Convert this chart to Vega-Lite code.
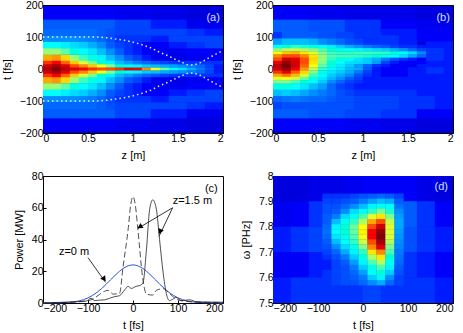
{"$schema":"https://vega.github.io/schema/vega-lite/v6.json","padding":{"left":0,"top":-1,"right":10,"bottom":0},"columns":2,"spacing":{"row":43,"column":50},"bounds":"flush","config":{"font":"Liberation Sans","view":{"stroke":"black"},"axisX":{"titlePadding":6},"axisY":{"titlePadding":7},"axis":{"grid":false,"labelFontSize":10.5,"titleFontSize":11,"titleFontWeight":"normal","tickSize":-3,"labelPadding":3,"domain":false,"labelColor":"black","titleColor":"black","tickColor":"black","format":"~r"}},
"datasets":{
"aFar":[{"x":0.2,"y":135,"v":17},{"x":0.2,"y":175,"v":12},{"x":0.2,"y":-135,"v":17},{"x":0.2,"y":-175,"v":12},{"x":0.6,"y":135,"v":17},{"x":0.6,"y":175,"v":12},{"x":0.6,"y":-135,"v":17},{"x":0.6,"y":-175,"v":12},{"x":1,"y":135,"v":15},{"x":1,"y":175,"v":11},{"x":1,"y":-135,"v":15},{"x":1,"y":-175,"v":11},{"x":1.4,"y":135,"v":13},{"x":1.4,"y":175,"v":10},{"x":1.4,"y":-135,"v":13},{"x":1.4,"y":-175,"v":10},{"x":1.8,"y":135,"v":11},{"x":1.8,"y":175,"v":9},{"x":1.8,"y":-135,"v":11},{"x":1.8,"y":-175,"v":9}],
"aCoarse":[{"x":1.3,"y":35,"v":11},{"x":1.3,"y":55,"v":11},{"x":1.3,"y":75,"v":12},{"x":1.3,"y":95,"v":13},{"x":1.3,"y":115,"v":15},{"x":1.3,"y":-35,"v":11},{"x":1.3,"y":-55,"v":11},{"x":1.3,"y":-75,"v":12},{"x":1.3,"y":-95,"v":13},{"x":1.3,"y":-115,"v":15},{"x":1.5,"y":35,"v":10},{"x":1.5,"y":55,"v":11},{"x":1.5,"y":75,"v":13},{"x":1.5,"y":95,"v":15},{"x":1.5,"y":115,"v":15},{"x":1.5,"y":-35,"v":10},{"x":1.5,"y":-55,"v":11},{"x":1.5,"y":-75,"v":13},{"x":1.5,"y":-95,"v":15},{"x":1.5,"y":-115,"v":15},{"x":1.7,"y":35,"v":11},{"x":1.7,"y":55,"v":12},{"x":1.7,"y":75,"v":14},{"x":1.7,"y":95,"v":15},{"x":1.7,"y":115,"v":14},{"x":1.7,"y":-35,"v":11},{"x":1.7,"y":-55,"v":12},{"x":1.7,"y":-75,"v":14},{"x":1.7,"y":-95,"v":15},{"x":1.7,"y":-115,"v":14},{"x":1.9,"y":35,"v":12},{"x":1.9,"y":55,"v":12},{"x":1.9,"y":75,"v":15},{"x":1.9,"y":95,"v":15},{"x":1.9,"y":115,"v":13},{"x":1.9,"y":-35,"v":12},{"x":1.9,"y":-55,"v":12},{"x":1.9,"y":-75,"v":15},{"x":1.9,"y":-95,"v":15},{"x":1.9,"y":-115,"v":13}],
"aMid":[{"x":0.05,"y":35,"v":74},{"x":0.05,"y":55,"v":54},{"x":0.05,"y":75,"v":38},{"x":0.05,"y":95,"v":22},{"x":0.05,"y":115,"v":18},{"x":0.05,"y":-35,"v":74},{"x":0.05,"y":-55,"v":54},{"x":0.05,"y":-75,"v":38},{"x":0.05,"y":-95,"v":22},{"x":0.05,"y":-115,"v":18},{"x":0.15,"y":35,"v":76},{"x":0.15,"y":55,"v":54},{"x":0.15,"y":75,"v":38},{"x":0.15,"y":95,"v":22},{"x":0.15,"y":115,"v":18},{"x":0.15,"y":-35,"v":76},{"x":0.15,"y":-55,"v":54},{"x":0.15,"y":-75,"v":38},{"x":0.15,"y":-95,"v":22},{"x":0.15,"y":-115,"v":18},{"x":0.25,"y":35,"v":68},{"x":0.25,"y":55,"v":49},{"x":0.25,"y":75,"v":35},{"x":0.25,"y":95,"v":22},{"x":0.25,"y":115,"v":18},{"x":0.25,"y":-35,"v":68},{"x":0.25,"y":-55,"v":49},{"x":0.25,"y":-75,"v":35},{"x":0.25,"y":-95,"v":22},{"x":0.25,"y":-115,"v":18},{"x":0.35,"y":35,"v":54},{"x":0.35,"y":55,"v":42},{"x":0.35,"y":75,"v":32},{"x":0.35,"y":95,"v":22},{"x":0.35,"y":115,"v":18},{"x":0.35,"y":-35,"v":54},{"x":0.35,"y":-55,"v":42},{"x":0.35,"y":-75,"v":32},{"x":0.35,"y":-95,"v":22},{"x":0.35,"y":-115,"v":18},{"x":0.45,"y":35,"v":47},{"x":0.45,"y":55,"v":38},{"x":0.45,"y":75,"v":30},{"x":0.45,"y":95,"v":21},{"x":0.45,"y":115,"v":18},{"x":0.45,"y":-35,"v":47},{"x":0.45,"y":-55,"v":38},{"x":0.45,"y":-75,"v":30},{"x":0.45,"y":-95,"v":21},{"x":0.45,"y":-115,"v":18},{"x":0.55,"y":35,"v":42},{"x":0.55,"y":55,"v":34},{"x":0.55,"y":75,"v":26},{"x":0.55,"y":95,"v":20},{"x":0.55,"y":115,"v":18},{"x":0.55,"y":-35,"v":42},{"x":0.55,"y":-55,"v":34},{"x":0.55,"y":-75,"v":26},{"x":0.55,"y":-95,"v":20},{"x":0.55,"y":-115,"v":18},{"x":0.65,"y":35,"v":36},{"x":0.65,"y":55,"v":28},{"x":0.65,"y":75,"v":22},{"x":0.65,"y":95,"v":18},{"x":0.65,"y":115,"v":17},{"x":0.65,"y":-35,"v":36},{"x":0.65,"y":-55,"v":28},{"x":0.65,"y":-75,"v":22},{"x":0.65,"y":-95,"v":18},{"x":0.65,"y":-115,"v":17},{"x":0.75,"y":35,"v":28},{"x":0.75,"y":55,"v":22},{"x":0.75,"y":75,"v":17},{"x":0.75,"y":95,"v":16},{"x":0.75,"y":115,"v":16},{"x":0.75,"y":-35,"v":28},{"x":0.75,"y":-55,"v":22},{"x":0.75,"y":-75,"v":17},{"x":0.75,"y":-95,"v":16},{"x":0.75,"y":-115,"v":16},{"x":0.85,"y":35,"v":22},{"x":0.85,"y":55,"v":17},{"x":0.85,"y":75,"v":15},{"x":0.85,"y":95,"v":14},{"x":0.85,"y":115,"v":15},{"x":0.85,"y":-35,"v":22},{"x":0.85,"y":-55,"v":17},{"x":0.85,"y":-75,"v":15},{"x":0.85,"y":-95,"v":14},{"x":0.85,"y":-115,"v":15},{"x":0.95,"y":35,"v":17},{"x":0.95,"y":55,"v":14},{"x":0.95,"y":75,"v":14},{"x":0.95,"y":95,"v":14},{"x":0.95,"y":115,"v":15},{"x":0.95,"y":-35,"v":17},{"x":0.95,"y":-55,"v":14},{"x":0.95,"y":-75,"v":14},{"x":0.95,"y":-95,"v":14},{"x":0.95,"y":-115,"v":15},{"x":1.05,"y":35,"v":15},{"x":1.05,"y":55,"v":13},{"x":1.05,"y":75,"v":13},{"x":1.05,"y":95,"v":14},{"x":1.05,"y":115,"v":15},{"x":1.05,"y":-35,"v":15},{"x":1.05,"y":-55,"v":13},{"x":1.05,"y":-75,"v":13},{"x":1.05,"y":-95,"v":14},{"x":1.05,"y":-115,"v":15},{"x":1.15,"y":35,"v":13},{"x":1.15,"y":55,"v":12},{"x":1.15,"y":75,"v":12},{"x":1.15,"y":95,"v":14},{"x":1.15,"y":115,"v":15},{"x":1.15,"y":-35,"v":13},{"x":1.15,"y":-55,"v":12},{"x":1.15,"y":-75,"v":12},{"x":1.15,"y":-95,"v":14},{"x":1.15,"y":-115,"v":15}],
"aFine":[{"x":0.05,"y":0,"v":95},{"x":0.05,"y":10,"v":92},{"x":0.05,"y":-10,"v":92},{"x":0.05,"y":20,"v":86},{"x":0.05,"y":-20,"v":86},{"x":0.15,"y":0,"v":100},{"x":0.15,"y":10,"v":96},{"x":0.15,"y":-10,"v":96},{"x":0.15,"y":20,"v":88},{"x":0.15,"y":-20,"v":88},{"x":0.25,"y":0,"v":94},{"x":0.25,"y":10,"v":90},{"x":0.25,"y":-10,"v":90},{"x":0.25,"y":20,"v":82},{"x":0.25,"y":-20,"v":82},{"x":0.35,"y":0,"v":90},{"x":0.35,"y":10,"v":84},{"x":0.35,"y":-10,"v":84},{"x":0.35,"y":20,"v":70},{"x":0.35,"y":-20,"v":70},{"x":0.45,"y":0,"v":88},{"x":0.45,"y":10,"v":78},{"x":0.45,"y":-10,"v":78},{"x":0.45,"y":20,"v":60},{"x":0.45,"y":-20,"v":60},{"x":0.55,"y":0,"v":86},{"x":0.55,"y":10,"v":70},{"x":0.55,"y":-10,"v":70},{"x":0.55,"y":20,"v":52},{"x":0.55,"y":-20,"v":52},{"x":0.65,"y":0,"v":84},{"x":0.65,"y":10,"v":62},{"x":0.65,"y":-10,"v":62},{"x":0.65,"y":20,"v":44},{"x":0.65,"y":-20,"v":44},{"x":0.75,"y":0,"v":84},{"x":0.75,"y":10,"v":52},{"x":0.75,"y":-10,"v":52},{"x":0.75,"y":20,"v":36},{"x":0.75,"y":-20,"v":36},{"x":0.85,"y":0,"v":86},{"x":0.85,"y":10,"v":44},{"x":0.85,"y":-10,"v":44},{"x":0.85,"y":20,"v":28},{"x":0.85,"y":-20,"v":28},{"x":0.95,"y":0,"v":90},{"x":0.95,"y":10,"v":40},{"x":0.95,"y":-10,"v":40},{"x":0.95,"y":20,"v":24},{"x":0.95,"y":-20,"v":24},{"x":1.05,"y":0,"v":88},{"x":1.05,"y":10,"v":36},{"x":1.05,"y":-10,"v":36},{"x":1.05,"y":20,"v":20},{"x":1.05,"y":-20,"v":20},{"x":1.15,"y":0,"v":78},{"x":1.15,"y":10,"v":30},{"x":1.15,"y":-10,"v":30},{"x":1.15,"y":20,"v":18},{"x":1.15,"y":-20,"v":18},{"x":1.25,"y":0,"v":62},{"x":1.25,"y":10,"v":28},{"x":1.25,"y":-10,"v":28},{"x":1.25,"y":20,"v":16},{"x":1.25,"y":-20,"v":16},{"x":1.35,"y":0,"v":50},{"x":1.35,"y":10,"v":26},{"x":1.35,"y":-10,"v":26},{"x":1.35,"y":20,"v":15},{"x":1.35,"y":-20,"v":15},{"x":1.45,"y":0,"v":40},{"x":1.45,"y":10,"v":24},{"x":1.45,"y":-10,"v":24},{"x":1.45,"y":20,"v":14},{"x":1.45,"y":-20,"v":14},{"x":1.55,"y":0,"v":33},{"x":1.55,"y":10,"v":22},{"x":1.55,"y":-10,"v":22},{"x":1.55,"y":20,"v":14},{"x":1.55,"y":-20,"v":14},{"x":1.65,"y":0,"v":26},{"x":1.65,"y":10,"v":20},{"x":1.65,"y":-10,"v":20},{"x":1.65,"y":20,"v":14},{"x":1.65,"y":-20,"v":14},{"x":1.75,"y":0,"v":20},{"x":1.75,"y":10,"v":18},{"x":1.75,"y":-10,"v":18},{"x":1.75,"y":20,"v":14},{"x":1.75,"y":-20,"v":14},{"x":1.85,"y":0,"v":16},{"x":1.85,"y":10,"v":15},{"x":1.85,"y":-10,"v":15},{"x":1.85,"y":20,"v":14},{"x":1.85,"y":-20,"v":14},{"x":1.95,"y":0,"v":13},{"x":1.95,"y":10,"v":13},{"x":1.95,"y":-10,"v":13},{"x":1.95,"y":20,"v":14},{"x":1.95,"y":-20,"v":14}],
"aDots":[{"x":0,"y":100,"s":"u"},{"x":0.6,"y":100,"s":"u"},{"x":0.7,"y":98,"s":"u"},{"x":0.8,"y":94,"s":"u"},{"x":0.9,"y":90,"s":"u"},{"x":1,"y":84,"s":"u"},{"x":1.1,"y":76,"s":"u"},{"x":1.2,"y":66,"s":"u"},{"x":1.3,"y":52,"s":"u"},{"x":1.4,"y":40,"s":"u"},{"x":1.5,"y":26,"s":"u"},{"x":1.6,"y":14,"s":"u"},{"x":1.67,"y":12,"s":"u"},{"x":1.75,"y":20,"s":"u"},{"x":1.85,"y":36,"s":"u"},{"x":2,"y":58,"s":"u"},{"x":0,"y":-100,"s":"l"},{"x":0.6,"y":-100,"s":"l"},{"x":0.7,"y":-98,"s":"l"},{"x":0.8,"y":-94,"s":"l"},{"x":0.9,"y":-90,"s":"l"},{"x":1,"y":-84,"s":"l"},{"x":1.1,"y":-76,"s":"l"},{"x":1.2,"y":-66,"s":"l"},{"x":1.3,"y":-52,"s":"l"},{"x":1.4,"y":-40,"s":"l"},{"x":1.5,"y":-26,"s":"l"},{"x":1.6,"y":-14,"s":"l"},{"x":1.67,"y":-12,"s":"l"},{"x":1.75,"y":-20,"s":"l"},{"x":1.85,"y":-36,"s":"l"},{"x":2,"y":-58,"s":"l"}],
"bFar":[{"x":0.2,"y":135,"v":17},{"x":0.2,"y":175,"v":12},{"x":0.2,"y":-135,"v":17},{"x":0.2,"y":-175,"v":12},{"x":0.6,"y":135,"v":16},{"x":0.6,"y":175,"v":11},{"x":0.6,"y":-135,"v":16},{"x":0.6,"y":-175,"v":12},{"x":1,"y":135,"v":14},{"x":1,"y":175,"v":10},{"x":1,"y":-135,"v":15},{"x":1,"y":-175,"v":11},{"x":1.4,"y":135,"v":12},{"x":1.4,"y":175,"v":10},{"x":1.4,"y":-135,"v":14},{"x":1.4,"y":-175,"v":10},{"x":1.8,"y":135,"v":11},{"x":1.8,"y":175,"v":9},{"x":1.8,"y":-135,"v":12},{"x":1.8,"y":-175,"v":9}],
"bCoarse":[{"x":1.3,"y":115,"v":13},{"x":1.3,"y":95,"v":14},{"x":1.3,"y":-55,"v":13},{"x":1.3,"y":-75,"v":14},{"x":1.3,"y":-95,"v":15},{"x":1.3,"y":-115,"v":15},{"x":1.5,"y":115,"v":13},{"x":1.5,"y":95,"v":13},{"x":1.5,"y":-55,"v":13},{"x":1.5,"y":-75,"v":14},{"x":1.5,"y":-95,"v":14},{"x":1.5,"y":-115,"v":14},{"x":1.7,"y":115,"v":12},{"x":1.7,"y":95,"v":12},{"x":1.7,"y":-55,"v":13},{"x":1.7,"y":-75,"v":13},{"x":1.7,"y":-95,"v":14},{"x":1.7,"y":-115,"v":14},{"x":1.9,"y":115,"v":12},{"x":1.9,"y":95,"v":12},{"x":1.9,"y":-55,"v":13},{"x":1.9,"y":-75,"v":13},{"x":1.9,"y":-95,"v":13},{"x":1.9,"y":-115,"v":13},{"x":1.8,"y":75,"v":13},{"x":1.8,"y":55,"v":14},{"x":1.8,"y":35,"v":14},{"x":1.8,"y":15,"v":13},{"x":1.8,"y":-5,"v":14},{"x":1.8,"y":-25,"v":13},{"x":2,"y":75,"v":13},{"x":2,"y":55,"v":13},{"x":2,"y":35,"v":13},{"x":2,"y":15,"v":13},{"x":2,"y":-5,"v":13},{"x":2,"y":-25,"v":13},{"x":1.3,"y":85,"v":14},{"x":1.5,"y":85,"v":13},{"x":1.8,"y":-45,"v":13},{"x":2,"y":-45,"v":13}],
"bMid":[{"x":0.05,"y":105,"v":14},{"x":0.05,"y":85,"v":24},{"x":0.05,"y":-55,"v":42},{"x":0.05,"y":-75,"v":28},{"x":0.05,"y":-95,"v":18},{"x":0.05,"y":-115,"v":15},{"x":0.15,"y":105,"v":17},{"x":0.15,"y":85,"v":28},{"x":0.15,"y":-55,"v":42},{"x":0.15,"y":-75,"v":30},{"x":0.15,"y":-95,"v":19},{"x":0.15,"y":-115,"v":16},{"x":0.25,"y":105,"v":17},{"x":0.25,"y":85,"v":28},{"x":0.25,"y":-55,"v":38},{"x":0.25,"y":-75,"v":28},{"x":0.25,"y":-95,"v":20},{"x":0.25,"y":-115,"v":16},{"x":0.35,"y":105,"v":17},{"x":0.35,"y":85,"v":28},{"x":0.35,"y":-55,"v":34},{"x":0.35,"y":-75,"v":25},{"x":0.35,"y":-95,"v":19},{"x":0.35,"y":-115,"v":16},{"x":0.45,"y":105,"v":17},{"x":0.45,"y":85,"v":26},{"x":0.45,"y":-55,"v":28},{"x":0.45,"y":-75,"v":22},{"x":0.45,"y":-95,"v":18},{"x":0.45,"y":-115,"v":16},{"x":0.55,"y":105,"v":16},{"x":0.55,"y":85,"v":22},{"x":0.55,"y":-55,"v":24},{"x":0.55,"y":-75,"v":20},{"x":0.55,"y":-95,"v":18},{"x":0.55,"y":-115,"v":16},{"x":0.65,"y":105,"v":16},{"x":0.65,"y":85,"v":20},{"x":0.65,"y":-55,"v":18},{"x":0.65,"y":-75,"v":18},{"x":0.65,"y":-95,"v":17},{"x":0.65,"y":-115,"v":16},{"x":0.75,"y":105,"v":15},{"x":0.75,"y":85,"v":18},{"x":0.75,"y":-55,"v":15},{"x":0.75,"y":-75,"v":16},{"x":0.75,"y":-95,"v":16},{"x":0.75,"y":-115,"v":16},{"x":0.85,"y":105,"v":15},{"x":0.85,"y":85,"v":16},{"x":0.85,"y":-55,"v":14},{"x":0.85,"y":-75,"v":15},{"x":0.85,"y":-95,"v":16},{"x":0.85,"y":-115,"v":16},{"x":0.95,"y":105,"v":14},{"x":0.95,"y":85,"v":15},{"x":0.95,"y":-55,"v":13},{"x":0.95,"y":-75,"v":14},{"x":0.95,"y":-95,"v":15},{"x":0.95,"y":-115,"v":15},{"x":1.05,"y":105,"v":14},{"x":1.05,"y":85,"v":14},{"x":1.05,"y":-55,"v":13},{"x":1.05,"y":-75,"v":14},{"x":1.05,"y":-95,"v":15},{"x":1.05,"y":-115,"v":15},{"x":1.15,"y":105,"v":14},{"x":1.15,"y":85,"v":14},{"x":1.15,"y":-55,"v":13},{"x":1.15,"y":-75,"v":14},{"x":1.15,"y":-95,"v":15},{"x":1.15,"y":-115,"v":15}],
"bFine":[{"x":0.05,"y":70,"v":40},{"x":0.05,"y":60,"v":52},{"x":0.05,"y":50,"v":63},{"x":0.05,"y":40,"v":78},{"x":0.05,"y":30,"v":84},{"x":0.05,"y":20,"v":90},{"x":0.05,"y":10,"v":94},{"x":0.05,"y":0,"v":92},{"x":0.05,"y":-10,"v":86},{"x":0.05,"y":-20,"v":74},{"x":0.05,"y":-30,"v":60},{"x":0.05,"y":-40,"v":52},{"x":0.15,"y":70,"v":44},{"x":0.15,"y":60,"v":56},{"x":0.15,"y":50,"v":70},{"x":0.15,"y":40,"v":84},{"x":0.15,"y":30,"v":92},{"x":0.15,"y":20,"v":98},{"x":0.15,"y":10,"v":100},{"x":0.15,"y":0,"v":98},{"x":0.15,"y":-10,"v":90},{"x":0.15,"y":-20,"v":80},{"x":0.15,"y":-30,"v":62},{"x":0.15,"y":-40,"v":52},{"x":0.25,"y":70,"v":46},{"x":0.25,"y":60,"v":57},{"x":0.25,"y":50,"v":72},{"x":0.25,"y":40,"v":84},{"x":0.25,"y":30,"v":90},{"x":0.25,"y":20,"v":92},{"x":0.25,"y":10,"v":92},{"x":0.25,"y":0,"v":88},{"x":0.25,"y":-10,"v":82},{"x":0.25,"y":-20,"v":72},{"x":0.25,"y":-30,"v":58},{"x":0.25,"y":-40,"v":48},{"x":0.35,"y":70,"v":45},{"x":0.35,"y":60,"v":55},{"x":0.35,"y":50,"v":66},{"x":0.35,"y":40,"v":78},{"x":0.35,"y":30,"v":84},{"x":0.35,"y":20,"v":84},{"x":0.35,"y":10,"v":82},{"x":0.35,"y":0,"v":76},{"x":0.35,"y":-10,"v":68},{"x":0.35,"y":-20,"v":60},{"x":0.35,"y":-30,"v":50},{"x":0.35,"y":-40,"v":44},{"x":0.45,"y":70,"v":43},{"x":0.45,"y":60,"v":52},{"x":0.45,"y":50,"v":60},{"x":0.45,"y":40,"v":66},{"x":0.45,"y":30,"v":68},{"x":0.45,"y":20,"v":66},{"x":0.45,"y":10,"v":62},{"x":0.45,"y":0,"v":58},{"x":0.45,"y":-10,"v":52},{"x":0.45,"y":-20,"v":47},{"x":0.45,"y":-30,"v":42},{"x":0.45,"y":-40,"v":38},{"x":0.55,"y":70,"v":39},{"x":0.55,"y":60,"v":48},{"x":0.55,"y":50,"v":52},{"x":0.55,"y":40,"v":54},{"x":0.55,"y":30,"v":54},{"x":0.55,"y":20,"v":52},{"x":0.55,"y":10,"v":50},{"x":0.55,"y":0,"v":46},{"x":0.55,"y":-10,"v":42},{"x":0.55,"y":-20,"v":38},{"x":0.55,"y":-30,"v":34},{"x":0.55,"y":-40,"v":30},{"x":0.65,"y":70,"v":35},{"x":0.65,"y":60,"v":44},{"x":0.65,"y":50,"v":47},{"x":0.65,"y":40,"v":48},{"x":0.65,"y":30,"v":46},{"x":0.65,"y":20,"v":44},{"x":0.65,"y":10,"v":42},{"x":0.65,"y":0,"v":38},{"x":0.65,"y":-10,"v":34},{"x":0.65,"y":-20,"v":30},{"x":0.65,"y":-30,"v":27},{"x":0.65,"y":-40,"v":22},{"x":0.75,"y":70,"v":30},{"x":0.75,"y":60,"v":41},{"x":0.75,"y":50,"v":46},{"x":0.75,"y":40,"v":47},{"x":0.75,"y":30,"v":42},{"x":0.75,"y":20,"v":38},{"x":0.75,"y":10,"v":35},{"x":0.75,"y":0,"v":34},{"x":0.75,"y":-10,"v":30},{"x":0.75,"y":-20,"v":26},{"x":0.75,"y":-30,"v":22},{"x":0.75,"y":-40,"v":18},{"x":0.85,"y":70,"v":26},{"x":0.85,"y":60,"v":38},{"x":0.85,"y":50,"v":46},{"x":0.85,"y":40,"v":47},{"x":0.85,"y":30,"v":40},{"x":0.85,"y":20,"v":33},{"x":0.85,"y":10,"v":30},{"x":0.85,"y":0,"v":28},{"x":0.85,"y":-10,"v":26},{"x":0.85,"y":-20,"v":22},{"x":0.85,"y":-30,"v":17},{"x":0.85,"y":-40,"v":15},{"x":0.95,"y":70,"v":23},{"x":0.95,"y":60,"v":36},{"x":0.95,"y":50,"v":47},{"x":0.95,"y":40,"v":46},{"x":0.95,"y":30,"v":34},{"x":0.95,"y":20,"v":32},{"x":0.95,"y":10,"v":24},{"x":0.95,"y":0,"v":26},{"x":0.95,"y":-10,"v":20},{"x":0.95,"y":-20,"v":16},{"x":0.95,"y":-30,"v":15},{"x":0.95,"y":-40,"v":14},{"x":1.05,"y":70,"v":20},{"x":1.05,"y":60,"v":34},{"x":1.05,"y":50,"v":47},{"x":1.05,"y":40,"v":45},{"x":1.05,"y":30,"v":30},{"x":1.05,"y":20,"v":30},{"x":1.05,"y":10,"v":18},{"x":1.05,"y":0,"v":17},{"x":1.05,"y":-10,"v":15},{"x":1.05,"y":-20,"v":14},{"x":1.05,"y":-30,"v":13},{"x":1.05,"y":-40,"v":13},{"x":1.15,"y":70,"v":18},{"x":1.15,"y":60,"v":32},{"x":1.15,"y":50,"v":46},{"x":1.15,"y":40,"v":44},{"x":1.15,"y":30,"v":26},{"x":1.15,"y":20,"v":24},{"x":1.15,"y":10,"v":14},{"x":1.15,"y":0,"v":13},{"x":1.15,"y":-10,"v":13},{"x":1.15,"y":-20,"v":13},{"x":1.15,"y":-30,"v":13},{"x":1.15,"y":-40,"v":13},{"x":1.25,"y":70,"v":17},{"x":1.25,"y":60,"v":30},{"x":1.25,"y":50,"v":46},{"x":1.25,"y":40,"v":42},{"x":1.25,"y":30,"v":20},{"x":1.25,"y":20,"v":15},{"x":1.25,"y":10,"v":13},{"x":1.25,"y":0,"v":12},{"x":1.25,"y":-10,"v":12},{"x":1.25,"y":-20,"v":12},{"x":1.25,"y":-30,"v":13},{"x":1.25,"y":-40,"v":13},{"x":1.35,"y":70,"v":15},{"x":1.35,"y":60,"v":26},{"x":1.35,"y":50,"v":44},{"x":1.35,"y":40,"v":38},{"x":1.35,"y":30,"v":16},{"x":1.35,"y":20,"v":13},{"x":1.35,"y":10,"v":12},{"x":1.35,"y":0,"v":12},{"x":1.35,"y":-10,"v":12},{"x":1.35,"y":-20,"v":12},{"x":1.35,"y":-30,"v":13},{"x":1.35,"y":-40,"v":13},{"x":1.45,"y":70,"v":14},{"x":1.45,"y":60,"v":22},{"x":1.45,"y":50,"v":40},{"x":1.45,"y":40,"v":32},{"x":1.45,"y":30,"v":14},{"x":1.45,"y":20,"v":12},{"x":1.45,"y":10,"v":12},{"x":1.45,"y":0,"v":12},{"x":1.45,"y":-10,"v":12},{"x":1.45,"y":-20,"v":12},{"x":1.45,"y":-30,"v":13},{"x":1.45,"y":-40,"v":13},{"x":1.55,"y":70,"v":14},{"x":1.55,"y":60,"v":18},{"x":1.55,"y":50,"v":32},{"x":1.55,"y":40,"v":25},{"x":1.55,"y":30,"v":13},{"x":1.55,"y":20,"v":12},{"x":1.55,"y":10,"v":12},{"x":1.55,"y":0,"v":13},{"x":1.55,"y":-10,"v":13},{"x":1.55,"y":-20,"v":13},{"x":1.55,"y":-30,"v":13},{"x":1.55,"y":-40,"v":13},{"x":1.65,"y":70,"v":13},{"x":1.65,"y":60,"v":15},{"x":1.65,"y":50,"v":22},{"x":1.65,"y":40,"v":18},{"x":1.65,"y":30,"v":12},{"x":1.65,"y":20,"v":12},{"x":1.65,"y":10,"v":13},{"x":1.65,"y":0,"v":13},{"x":1.65,"y":-10,"v":13},{"x":1.65,"y":-20,"v":13},{"x":1.65,"y":-30,"v":13},{"x":1.65,"y":-40,"v":13}],
"dFar":[{"x":-180,"y":7.95,"v":9},{"x":-180,"y":7.85,"v":11},{"x":-180,"y":7.75,"v":13},{"x":-180,"y":7.65,"v":12},{"x":-180,"y":7.55,"v":13},{"x":-140,"y":7.95,"v":9},{"x":-140,"y":7.85,"v":12},{"x":-140,"y":7.75,"v":14},{"x":-140,"y":7.65,"v":12},{"x":-140,"y":7.55,"v":14},{"x":-100,"y":7.95,"v":10},{"x":-100,"y":7.85,"v":14},{"x":-100,"y":7.75,"v":15},{"x":-100,"y":7.65,"v":13},{"x":-100,"y":7.55,"v":14},{"x":100,"y":7.95,"v":12},{"x":100,"y":7.85,"v":17},{"x":100,"y":7.75,"v":16},{"x":100,"y":7.65,"v":14},{"x":100,"y":7.55,"v":14},{"x":140,"y":7.95,"v":10},{"x":140,"y":7.85,"v":14},{"x":140,"y":7.75,"v":14},{"x":140,"y":7.65,"v":13},{"x":140,"y":7.55,"v":14},{"x":180,"y":7.95,"v":9},{"x":180,"y":7.85,"v":12},{"x":180,"y":7.75,"v":13},{"x":180,"y":7.65,"v":12},{"x":180,"y":7.55,"v":13},{"x":-60,"y":7.97,"v":10},{"x":-20,"y":7.97,"v":11},{"x":20,"y":7.97,"v":12},{"x":60,"y":7.97,"v":12},{"x":-60,"y":7.53,"v":14},{"x":-20,"y":7.53,"v":14},{"x":20,"y":7.53,"v":15},{"x":60,"y":7.53,"v":14}],
"dFine":[{"x":-80,"y":7.92,"v":14},{"x":-60,"y":7.92,"v":14},{"x":-40,"y":7.92,"v":14},{"x":-20,"y":7.92,"v":15},{"x":0,"y":7.92,"v":16},{"x":20,"y":7.92,"v":17},{"x":40,"y":7.92,"v":18},{"x":60,"y":7.92,"v":17},{"x":80,"y":7.92,"v":15},{"x":-80,"y":7.9,"v":15},{"x":-60,"y":7.9,"v":15},{"x":-40,"y":7.9,"v":16},{"x":-20,"y":7.9,"v":17},{"x":0,"y":7.9,"v":20},{"x":20,"y":7.9,"v":24},{"x":40,"y":7.9,"v":28},{"x":60,"y":7.9,"v":26},{"x":80,"y":7.9,"v":17},{"x":-80,"y":7.88,"v":16},{"x":-60,"y":7.88,"v":16},{"x":-40,"y":7.88,"v":18},{"x":-20,"y":7.88,"v":22},{"x":0,"y":7.88,"v":28},{"x":20,"y":7.88,"v":36},{"x":40,"y":7.88,"v":40},{"x":60,"y":7.88,"v":38},{"x":80,"y":7.88,"v":19},{"x":-80,"y":7.86,"v":16},{"x":-60,"y":7.86,"v":17},{"x":-40,"y":7.86,"v":22},{"x":-20,"y":7.86,"v":32},{"x":0,"y":7.86,"v":40},{"x":20,"y":7.86,"v":46},{"x":40,"y":7.86,"v":52},{"x":60,"y":7.86,"v":45},{"x":80,"y":7.86,"v":22},{"x":-80,"y":7.84,"v":17},{"x":-60,"y":7.84,"v":20},{"x":-40,"y":7.84,"v":32},{"x":-20,"y":7.84,"v":40},{"x":0,"y":7.84,"v":48},{"x":20,"y":7.84,"v":60},{"x":40,"y":7.84,"v":66},{"x":60,"y":7.84,"v":52},{"x":80,"y":7.84,"v":24},{"x":-80,"y":7.82,"v":17},{"x":-60,"y":7.82,"v":28},{"x":-40,"y":7.82,"v":40},{"x":-20,"y":7.82,"v":46},{"x":0,"y":7.82,"v":56},{"x":20,"y":7.82,"v":74},{"x":40,"y":7.82,"v":84},{"x":60,"y":7.82,"v":58},{"x":80,"y":7.82,"v":25},{"x":-80,"y":7.8,"v":18},{"x":-60,"y":7.8,"v":36},{"x":-40,"y":7.8,"v":44},{"x":-20,"y":7.8,"v":50},{"x":0,"y":7.8,"v":62},{"x":20,"y":7.8,"v":84},{"x":40,"y":7.8,"v":92},{"x":60,"y":7.8,"v":60},{"x":80,"y":7.8,"v":25},{"x":-80,"y":7.78,"v":19},{"x":-60,"y":7.78,"v":38},{"x":-40,"y":7.78,"v":44},{"x":-20,"y":7.78,"v":50},{"x":0,"y":7.78,"v":64},{"x":20,"y":7.78,"v":88},{"x":40,"y":7.78,"v":98},{"x":60,"y":7.78,"v":60},{"x":80,"y":7.78,"v":24},{"x":-80,"y":7.76,"v":18},{"x":-60,"y":7.76,"v":34},{"x":-40,"y":7.76,"v":42},{"x":-20,"y":7.76,"v":48},{"x":0,"y":7.76,"v":62},{"x":20,"y":7.76,"v":88},{"x":40,"y":7.76,"v":100},{"x":60,"y":7.76,"v":60},{"x":80,"y":7.76,"v":23},{"x":-80,"y":7.74,"v":17},{"x":-60,"y":7.74,"v":28},{"x":-40,"y":7.74,"v":38},{"x":-20,"y":7.74,"v":46},{"x":0,"y":7.74,"v":58},{"x":20,"y":7.74,"v":84},{"x":40,"y":7.74,"v":96},{"x":60,"y":7.74,"v":56},{"x":80,"y":7.74,"v":22},{"x":-80,"y":7.72,"v":16},{"x":-60,"y":7.72,"v":22},{"x":-40,"y":7.72,"v":32},{"x":-20,"y":7.72,"v":42},{"x":0,"y":7.72,"v":52},{"x":20,"y":7.72,"v":78},{"x":40,"y":7.72,"v":90},{"x":60,"y":7.72,"v":52},{"x":80,"y":7.72,"v":21},{"x":-80,"y":7.7,"v":15},{"x":-60,"y":7.7,"v":18},{"x":-40,"y":7.7,"v":26},{"x":-20,"y":7.7,"v":36},{"x":0,"y":7.7,"v":46},{"x":20,"y":7.7,"v":66},{"x":40,"y":7.7,"v":78},{"x":60,"y":7.7,"v":48},{"x":80,"y":7.7,"v":20},{"x":-80,"y":7.68,"v":14},{"x":-60,"y":7.68,"v":16},{"x":-40,"y":7.68,"v":20},{"x":-20,"y":7.68,"v":30},{"x":0,"y":7.68,"v":42},{"x":20,"y":7.68,"v":56},{"x":40,"y":7.68,"v":66},{"x":60,"y":7.68,"v":44},{"x":80,"y":7.68,"v":19},{"x":-80,"y":7.66,"v":13},{"x":-60,"y":7.66,"v":15},{"x":-40,"y":7.66,"v":17},{"x":-20,"y":7.66,"v":24},{"x":0,"y":7.66,"v":36},{"x":20,"y":7.66,"v":48},{"x":40,"y":7.66,"v":56},{"x":60,"y":7.66,"v":40},{"x":80,"y":7.66,"v":18},{"x":-80,"y":7.64,"v":13},{"x":-60,"y":7.64,"v":15},{"x":-40,"y":7.64,"v":16},{"x":-20,"y":7.64,"v":20},{"x":0,"y":7.64,"v":30},{"x":20,"y":7.64,"v":42},{"x":40,"y":7.64,"v":48},{"x":60,"y":7.64,"v":36},{"x":80,"y":7.64,"v":17},{"x":-80,"y":7.62,"v":14},{"x":-60,"y":7.62,"v":15},{"x":-40,"y":7.62,"v":16},{"x":-20,"y":7.62,"v":18},{"x":0,"y":7.62,"v":24},{"x":20,"y":7.62,"v":38},{"x":40,"y":7.62,"v":44},{"x":60,"y":7.62,"v":30},{"x":80,"y":7.62,"v":16},{"x":-80,"y":7.6,"v":14},{"x":-60,"y":7.6,"v":15},{"x":-40,"y":7.6,"v":16},{"x":-20,"y":7.6,"v":17},{"x":0,"y":7.6,"v":20},{"x":20,"y":7.6,"v":30},{"x":40,"y":7.6,"v":36},{"x":60,"y":7.6,"v":22},{"x":80,"y":7.6,"v":15},{"x":-80,"y":7.58,"v":14},{"x":-60,"y":7.58,"v":15},{"x":-40,"y":7.58,"v":16},{"x":-20,"y":7.58,"v":16},{"x":0,"y":7.58,"v":18},{"x":20,"y":7.58,"v":22},{"x":40,"y":7.58,"v":26},{"x":60,"y":7.58,"v":18},{"x":80,"y":7.58,"v":15}],
"cBlue":[{"x":-200,"y":0},{"x":-160,"y":0.15},{"x":-140,"y":0.5},{"x":-120,"y":1.3},{"x":-100,"y":3.2},{"x":-80,"y":6.7},{"x":-60,"y":11.7},{"x":-40,"y":17.4},{"x":-20,"y":22.1},{"x":0,"y":24},{"x":20,"y":22.1},{"x":40,"y":17.4},{"x":60,"y":11.7},{"x":80,"y":6.7},{"x":100,"y":3.2},{"x":120,"y":1.3},{"x":140,"y":0.5},{"x":160,"y":0.15},{"x":200,"y":0}],
"cDash":[{"x":-200,"y":0},{"x":-150,"y":0.3},{"x":-111,"y":1},{"x":-89,"y":2.5},{"x":-74,"y":5.5},{"x":-55,"y":8},{"x":-44,"y":5.6},{"x":-30,"y":6},{"x":-22,"y":23},{"x":-11,"y":46},{"x":-5,"y":62},{"x":0,"y":67},{"x":5,"y":62},{"x":11,"y":46},{"x":21,"y":17},{"x":30,"y":5.6},{"x":44,"y":5},{"x":52,"y":8},{"x":67,"y":9},{"x":81,"y":6},{"x":96,"y":2.5},{"x":118,"y":1},{"x":150,"y":0.5},{"x":200,"y":0.3}],
"cSolid":[{"x":-200,"y":0},{"x":-145,"y":0.6},{"x":-104,"y":1.2},{"x":-93,"y":3},{"x":-85,"y":1.5},{"x":-74,"y":1.8},{"x":-63,"y":2},{"x":-52,"y":3},{"x":-41,"y":4},{"x":-30,"y":4.6},{"x":-18,"y":8.4},{"x":-11,"y":10.5},{"x":-4,"y":9.2},{"x":7,"y":10.5},{"x":15,"y":11},{"x":22,"y":12.5},{"x":30,"y":34},{"x":37,"y":59},{"x":44,"y":65},{"x":52,"y":59},{"x":59,"y":40},{"x":67,"y":19},{"x":74,"y":6},{"x":81,"y":1.5},{"x":89,"y":2.5},{"x":96,"y":3.5},{"x":107,"y":1.5},{"x":126,"y":2},{"x":141,"y":0.8},{"x":165,"y":0.6},{"x":200,"y":0.5}],
"arrow0":[{"x":-100,"y":28.6},{"x":-61,"y":13}],
"arrow1":[{"x":88,"y":60},{"x":11,"y":47}],
"arrow2":[{"x":88,"y":60},{"x":58,"y":42}]
},
"concat":[
{"width":180,"height":128,"view":{"fill":"#0000cc","stroke":"black"},"encoding":{"x":{"field":"x","type":"quantitative","title":"z [m]","scale":{"domain":[0,2],"nice":false},"axis":{"values":[0,0.5,1,1.5,2]}},"y":{"field":"y","type":"quantitative","title":"t [fs]","scale":{"domain":[-200,200],"nice":false},"axis":{"values":[-200,-100,0,100,200]}}},
"layer":[{"encoding":{"color":{"field":"v","type":"quantitative","legend":null,"scale":{"domain":[0,12.5,37.5,62.5,87.5,100],"range":["#00008f","#0000ff","#00ffff","#ffff00","#ff0000","#800000"]}}},"layer":[
{"data":{"name":"aFar"},"mark":{"type":"rect","width":36.5,"height":13,"clip":true}},
{"data":{"name":"aCoarse"},"mark":{"type":"rect","width":18.5,"height":6.8,"clip":true}},
{"data":{"name":"aMid"},"mark":{"type":"rect","width":9.3,"height":6.8,"clip":true}},
{"data":{"name":"aFine"},"mark":{"type":"rect","width":9.3,"height":3.5,"clip":true}}]},
{"data":{"name":"aDots"},"mark":{"type":"line","color":"#dfe8ff","strokeWidth":1.5,"strokeDash":[1.5,3],"clip":true},"encoding":{"detail":{"field":"s"}}},
{"data":{"values":[{"x":1.89,"y":160,"l":"(a)"}]},"mark":{"type":"text","color":"#cfe0ff","fontSize":11},"encoding":{"text":{"field":"l"}}}]},
{"width":180,"height":128,"view":{"fill":"#0000cc","stroke":"black"},"encoding":{"x":{"field":"x","type":"quantitative","title":"z [m]","scale":{"domain":[0,2],"nice":false},"axis":{"values":[0,0.5,1,1.5,2]}},"y":{"field":"y","type":"quantitative","title":"t [fs]","scale":{"domain":[-200,200],"nice":false},"axis":{"values":[-200,-100,0,100,200]}}},
"layer":[{"encoding":{"color":{"field":"v","type":"quantitative","legend":null,"scale":{"domain":[0,12.5,37.5,62.5,87.5,100],"range":["#00008f","#0000ff","#00ffff","#ffff00","#ff0000","#800000"]}}},"layer":[
{"data":{"name":"bFar"},"mark":{"type":"rect","width":36.5,"height":13,"clip":true}},
{"data":{"name":"bCoarse"},"mark":{"type":"rect","width":18.5,"height":6.8,"clip":true}},
{"data":{"name":"bMid"},"mark":{"type":"rect","width":9.3,"height":6.8,"clip":true}},
{"data":{"name":"bFine"},"mark":{"type":"rect","width":9.3,"height":3.5,"clip":true}}]},
{"data":{"values":[{"x":1.89,"y":160,"l":"(b)"}]},"mark":{"type":"text","color":"#cfe0ff","fontSize":11},"encoding":{"text":{"field":"l"}}}]},
{"width":180,"height":127,"view":{"fill":"white","stroke":"black"},"encoding":{"x":{"field":"x","type":"quantitative","title":"t [fs]","scale":{"domain":[-200,200],"nice":false},"axis":{"values":[-200,-100,0,100,200]}},"y":{"field":"y","type":"quantitative","title":"Power [MW]","scale":{"domain":[0,80],"nice":false},"axis":{"values":[0,20,40,60,80]}}},
"layer":[
{"data":{"name":"cBlue"},"mark":{"type":"line","color":"#3050e0","strokeWidth":1,"interpolate":"monotone"}},
{"data":{"name":"cDash"},"mark":{"type":"line","color":"#222222","strokeWidth":0.8,"strokeDash":[6,3],"interpolate":"monotone"}},
{"data":{"name":"cSolid"},"mark":{"type":"line","color":"#222222","strokeWidth":0.8,"interpolate":"monotone"}},
{"data":{"name":"arrow0"},"mark":{"type":"line","color":"black","strokeWidth":0.8}},
{"data":{"name":"arrow1"},"mark":{"type":"line","color":"black","strokeWidth":0.8}},
{"data":{"name":"arrow2"},"mark":{"type":"line","color":"black","strokeWidth":0.8}},
{"data":{"values":[{"x":-64,"y":15}]},"mark":{"type":"point","shape":"triangle-up","filled":true,"color":"black","opacity":1,"size":36,"angle":145}},
{"data":{"values":[{"x":15,"y":48}]},"mark":{"type":"point","shape":"triangle-up","filled":true,"color":"black","opacity":1,"size":36,"angle":239}},
{"data":{"values":[{"x":60,"y":45}]},"mark":{"type":"point","shape":"triangle-up","filled":true,"color":"black","opacity":1,"size":36,"angle":205}},
{"data":{"values":[{"x":132,"y":64,"l":"z=1.5 m"},{"x":-131,"y":32,"l":"z=0 m"},{"x":174,"y":72,"l":"(c)"}]},"mark":{"type":"text","color":"black","fontSize":11},"encoding":{"text":{"field":"l"}}}]},
{"width":180,"height":127,"view":{"fill":"#0000cc","stroke":"black"},"encoding":{"x":{"field":"x","type":"quantitative","title":"t [fs]","scale":{"domain":[-200,200],"nice":false},"axis":{"values":[-200,-100,0,100,200]}},"y":{"field":"y","type":"quantitative","title":"ω [PHz]","scale":{"domain":[7.5,8],"nice":false},"axis":{"values":[7.5,7.6,7.7,7.8,7.9,8]}}},
"layer":[{"encoding":{"color":{"field":"v","type":"quantitative","legend":null,"scale":{"domain":[0,12.5,37.5,62.5,87.5,100],"range":["#00008f","#0000ff","#00ffff","#ffff00","#ff0000","#800000"]}}},"layer":[
{"data":{"name":"dFar"},"mark":{"type":"rect","width":18.3,"height":25.6,"clip":true}},
{"data":{"name":"dFine"},"mark":{"type":"rect","width":9.3,"height":5.4,"clip":true}}]},
{"data":{"values":[{"x":174,"y":7.955,"l":"(d)"}]},"mark":{"type":"text","color":"#cfe0ff","fontSize":11},"encoding":{"text":{"field":"l"}}}]}
]}
